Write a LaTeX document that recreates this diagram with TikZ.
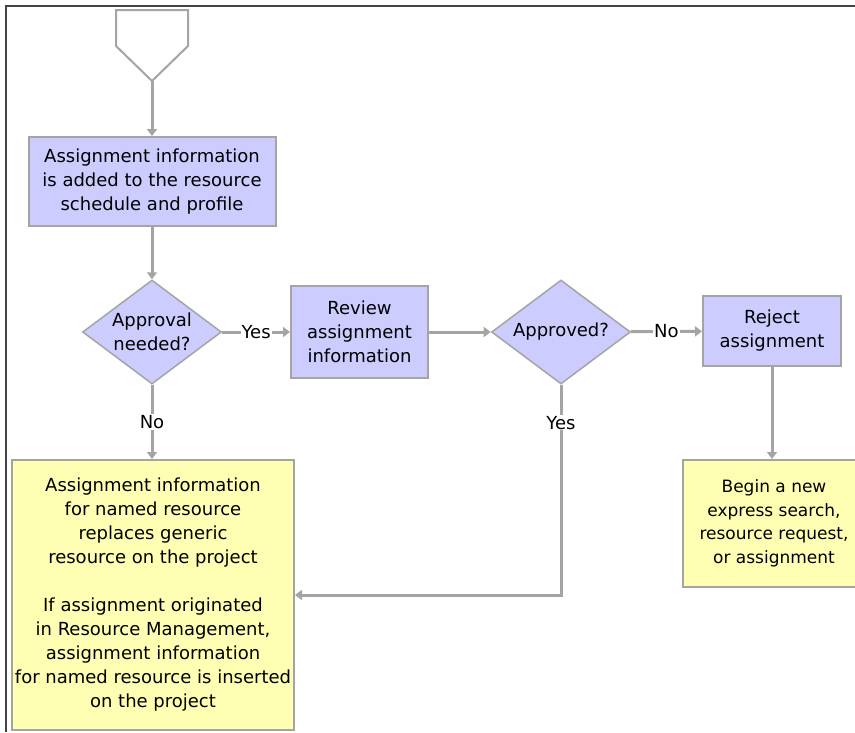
\documentclass[tikz,border=0pt]{standalone}
\usepackage{fontspec}
\setmainfont{DejaVu Sans}
\usetikzlibrary{shapes.geometric, arrows.meta}
\definecolor{boxblue}{HTML}{CCCCFF}
\definecolor{boxyellow}{HTML}{FFFFB4}
\definecolor{linegray}{HTML}{A4A4A4}
\definecolor{framegray}{HTML}{444444}

\begin{document}
\begin{tikzpicture}[x=1pt, y=-1pt,
    every node/.style={font=\fontsize{18}{24}\selectfont, align=center},
    bluebox/.style={draw=linegray, line width=2pt, fill=boxblue, inner sep=0pt},
    yellowbox/.style={draw=linegray, line width=2pt, fill=boxyellow, inner sep=0pt},
    decision/.style={diamond, aspect=1.34, draw=linegray, line width=1.5pt, fill=boxblue,
        inner sep=0pt, minimum width=139pt, minimum height=104pt},
    flow/.style={draw=linegray, line width=3pt,
        -{Triangle[length=7pt, width=10pt]}},
    lbl/.style={fill=white, inner sep=1pt}]
    \path[use as bounding box, clip] (0,0) rectangle (855,732);
    % frame
    \draw[framegray, line width=2pt] (6,732) -- (6,6) -- (855,6);
    % off-page connector
    \draw[linegray, line width=2pt, fill=white]
        (116,10) -- (188,10) -- (188,46) -- (152,81) -- (116,46) -- cycle;
    \coordinate (start) at (152,81);
    % nodes
    \node[bluebox, minimum width=247pt, minimum height=89pt] (added) at (152,181.5)
        {Assignment information\\is added to the resource\\schedule and profile};
    \node[decision] (needed) at (152,332) {Approval\\needed?};
    \node[bluebox, minimum width=137pt, minimum height=92pt] (review) at (359.5,332)
        {Review\\assignment\\information};
    \node[decision] (approved) at (561,332) {Approved?};
    \node[bluebox, minimum width=138pt, minimum height=70pt] (reject) at (772,331)
        {Reject\\assignment};
    \node[yellowbox, minimum width=282pt, minimum height=270pt] (replace) at (153,595)
        {Assignment information\\for named resource\\replaces generic\\resource on the project\\[24pt]
         If assignment originated\\in Resource Management,\\assignment information\\
         for named resource is inserted\\on the project};
    \node[yellowbox, minimum width=182pt, minimum height=127pt,
        font=\fontsize{17}{23.5}\selectfont] (begin) at (774,523.5)
        {Begin a new\\express search,\\resource request,\\or assignment};
    % connectors
    \draw[flow] (start) -- (added);
    \draw[flow] (added) -- (needed);
    \draw[flow] (needed) -- node[lbl] {Yes} (review);
    \draw[flow] (review) -- (approved);
    \draw[flow] (approved) -- node[lbl] {No} (reject);
    \draw[flow] (reject.south) -- (reject.south |- begin.north);
    \draw[flow] (needed.south) -- node[lbl] {No} (needed.south |- replace.north);
    \draw[flow] (approved.south) |- node[lbl, pos=0.09] {Yes} (replace.east);
\end{tikzpicture}
\end{document}
